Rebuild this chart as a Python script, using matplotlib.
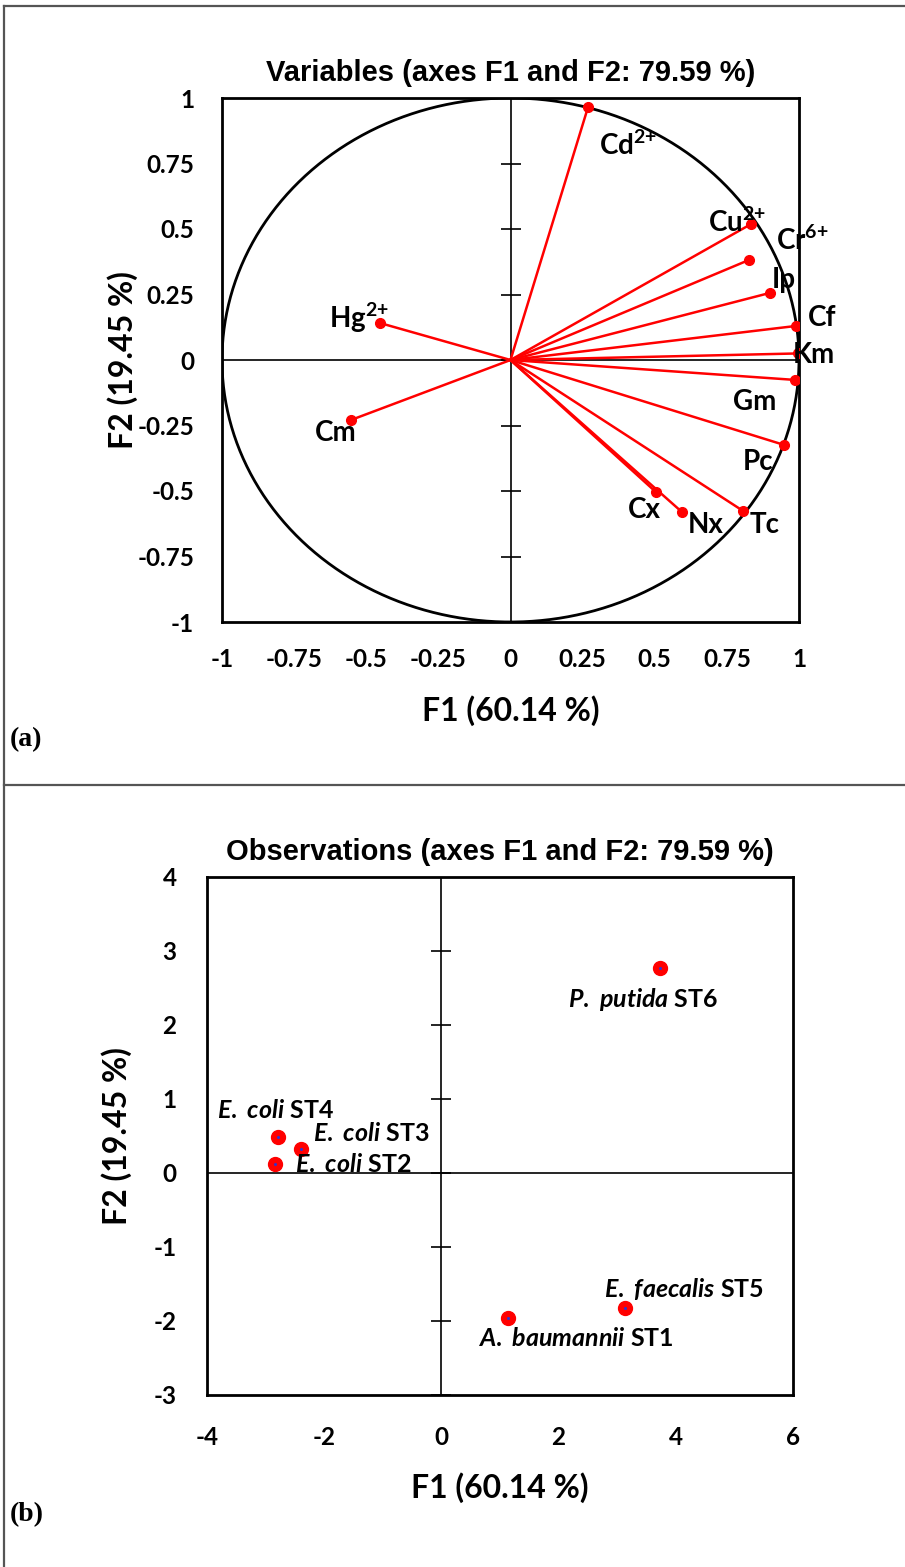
import numpy as np
import matplotlib
matplotlib.use("Agg")
import matplotlib.pyplot as plt
from matplotlib.lines import Line2D

plt.rcParams['font.family'] = ['Lato', 'DejaVu Sans']
plt.rcParams['mathtext.fontset'] = 'custom'
plt.rcParams['mathtext.rm'] = 'Lato:bold'
plt.rcParams['mathtext.bf'] = 'Lato:bold'
plt.rcParams['mathtext.it'] = 'Lato:italic:bold'
plt.rcParams['mathtext.default'] = 'bf'

# ---- panel (a): variables (loadings on F1/F2)
var_names = ['Cd$^{2{+}}$', 'Cu$^{2{+}}$', 'Cr$^{6{+}}$', 'Ip', 'Cf', 'Km', 'Gm', 'Pc', 'Tc', 'Nx', 'Cx',
             'Hg$^{2{+}}$', 'Cm']
var_f1 = [0.269, 0.834, 0.827, 0.899, 0.990, 0.995, 0.986, 0.948, 0.806, 0.594, 0.504, -0.452, -0.553]
var_f2 = [0.966, 0.519, 0.382, 0.256, 0.130, 0.025, -0.076, -0.324, -0.576, -0.580, -0.504, 0.141, -0.229]
var_lab_x = [0.307, 0.685, 0.920, 0.907, 1.030, 0.980, 0.771, 0.806, 0.830, 0.615, 0.407, -0.629, -0.678]
var_lab_y = [0.820, 0.527, 0.458, 0.305, 0.160, 0.020, -0.160, -0.390, -0.630, -0.630, -0.572, 0.160, -0.279]

# ---- panel (b): observations (scores on F1/F2)
obs_genus = ['A. baumannii', 'E. coli', 'E. coli', 'E. coli', 'E. faecalis', 'P. putida']
obs_strain = ['ST1', 'ST2', 'ST3', 'ST4', 'ST5', 'ST6']
obs_f1 = [1.13, -2.84, -2.40, -2.79, 3.13, 3.73]
obs_f2 = [-1.96, 0.12, 0.32, 0.49, -1.82, 2.77]
obs_lab_x = [0.62, -2.50, -2.19, -3.83, 2.77, 2.16]
obs_lab_y = [-2.23, 0.11, 0.53, 0.84, -1.57, 2.34]

ticks_a = [-1, -0.75, -0.5, -0.25, 0, 0.25, 0.5, 0.75, 1]
xticks_b = [-4, -2, 0, 2, 4, 6]
yticks_b = [-3, -2, -1, 0, 1, 2, 3, 4]

W, H = 905, 1567
fig = plt.figure(figsize=(W / 100, H / 100), dpi=100)

ax1 = fig.add_axes([222 / W, 1 - 622 / H, 577 / W, 524 / H])
ax2 = fig.add_axes([207 / W, 1 - 1395 / H, 586 / W, 518 / H])


def style_axes(ax, xt, yt, xlim, ylim, title, xpad, ypad, xlab_y, ylab_x):
    ax.set_xlim(*xlim)
    ax.set_ylim(*ylim)
    ax.set_xticks(xt)
    ax.set_yticks(yt)
    ax.set_xticklabels([f'{t:g}' for t in xt])
    ax.set_yticklabels([f'{t:g}' for t in yt])
    ax.tick_params(length=0, labelsize=17.5)
    ax.tick_params(axis='x', pad=xpad)
    ax.tick_params(axis='y', pad=ypad)
    for lab in ax.get_xticklabels() + ax.get_yticklabels():
        lab.set_fontweight('bold')
    for s in ax.spines.values():
        s.set_linewidth(2.0)
    ax.axhline(0, color='black', lw=1.2, zorder=1)
    ax.axvline(0, color='black', lw=1.2, zorder=1)
    # small tick marks on the vertical centre line
    ax.plot([0] * len(yt), yt, ls='none', marker='_', ms=14, mew=1.2, color='black', zorder=1)
    ax.set_title(title, family=['Liberation Sans', 'DejaVu Sans'], fontweight='bold', fontsize=21, pad=12)
    ax.set_xlabel('F1 (60.14 %)', fontsize=23, fontweight='bold', va='center')
    ax.set_ylabel('F2 (19.45 %)', fontsize=23, fontweight='bold', va='center')
    ax.xaxis.set_label_coords(0.5, xlab_y)
    ax.yaxis.set_label_coords(ylab_x, 0.5)


style_axes(ax1, ticks_a, ticks_a, (-1, 1), (-1, 1),
           'Variables (axes F1 and F2: 79.59 %)', 19, 20, -0.170, -0.172)
style_axes(ax2, xticks_b, yticks_b, (-4, 6), (-3, 4),
           'Observations (axes F1 and F2: 79.59 %)', 22, 22, -0.178, -0.155)

# correlation circle
theta = np.linspace(0, 2 * np.pi, 400)
ax1.plot(np.cos(theta), np.sin(theta), color='black', lw=2.0, zorder=2)

for x, y in zip(var_f1, var_f2):
    ax1.plot([0, x], [0, y], color='red', lw=1.8, zorder=3)
ax1.plot(var_f1, var_f2, ls='none', marker='o', ms=7, color='red', zorder=4)
for name, x, y in zip(var_names, var_lab_x, var_lab_y):
    ax1.text(x, y, name, fontsize=20, fontweight='bold', ha='left', va='center', zorder=5)

ax2.plot(obs_f1, obs_f2, ls='none', marker='o', ms=10, color='red', zorder=4)
ax2.plot(obs_f1, obs_f2, ls='none', marker='o', ms=1.2, color='#3333cc', zorder=5)
for g, s, x, y in zip(obs_genus, obs_strain, obs_lab_x, obs_lab_y):
    lab = r'$\mathit{' + g.replace(' ', r'\ ') + '}$ ' + s
    ax2.text(x, y, lab, fontsize=18, fontweight='bold', ha='left', va='center', zorder=5)

# panel letters
fig.text(10 / W, 1 - 740 / H, '(a)', family=['Liberation Serif'], fontweight='bold', fontsize=20,
         va='center')
fig.text(10 / W, 1 - 1515 / H, '(b)', family=['Liberation Serif'], fontweight='bold', fontsize=20,
         va='center')

# outer frame and divider
border = dict(color='#555555', lw=1.6, transform=fig.transFigure)
fig.add_artist(Line2D([4 / W, 4 / W], [0, 1 - 6 / H], **border))
fig.add_artist(Line2D([4 / W, 1], [1 - 6 / H, 1 - 6 / H], **border))
fig.add_artist(Line2D([4 / W, 1], [1 - 785 / H, 1 - 785 / H], **border))

fig.savefig('out.png', dpi=100)
